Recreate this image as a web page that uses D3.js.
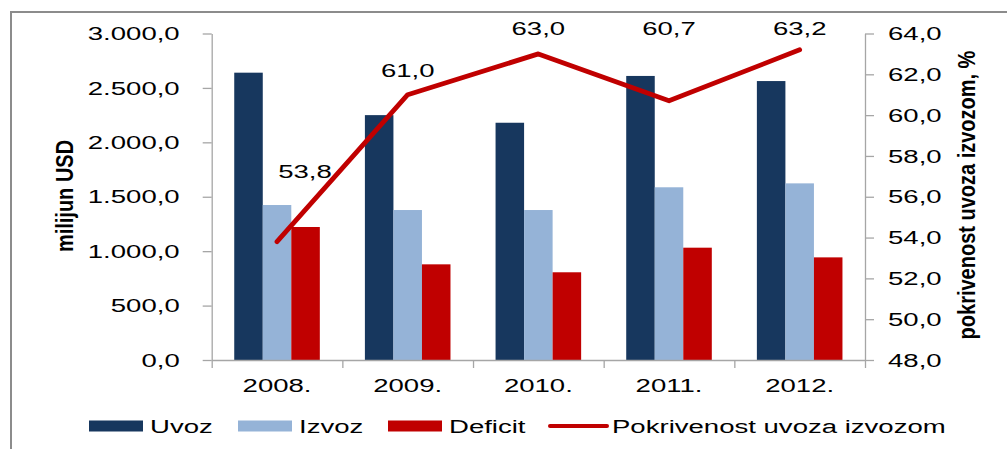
<!DOCTYPE html>
<html>
<head>
<meta charset="utf-8">
<script src="https://cdn.jsdelivr.net/npm/d3@7"></script>
<style>
  html, body { margin: 0; padding: 0; background: #fff; }
  svg { display: block; font-family: "Liberation Sans", Arial, sans-serif; }
</style>
</head>
<body>
<div id="chart"></div>
<script>
// data
const years = ["2008.", "2009.", "2010.", "2011.", "2012."];
const uvoz = [2640, 2250, 2180, 2610, 2563];
const izvoz = [1424, 1378, 1378, 1587, 1623];
const deficit = [1222, 879, 806, 1032, 943];
const pokrivenost = [53.8, 61.0, 63.0, 60.7, 63.2];
const leftTicks = [0, 500, 1000, 1500, 2000, 2500, 3000];
const rightTicks = [48, 50, 52, 54, 56, 58, 60, 62, 64];
const seriesNames = ["Uvoz", "Izvoz", "Deficit"];
const lineName = "Pokrivenost uvoza izvozom";

const W = 1007, H = 449;
const SX = 1.45; // horizontal stretch of the text in the original picture
const colors = { Uvoz: "#17375E", Izvoz: "#95B3D7", Deficit: "#C00000" };
const lineColor = "#C00000";
const axisColor = "#A6A6A6";

const locale = d3.formatLocale({ decimal: ",", thousands: ".", grouping: [3], currency: ["", ""] });
const fmt = locale.format(",.1f");

const svg = d3.select("#chart").append("svg")
  .attr("width", W).attr("height", H);

// frame
svg.append("rect")
  .attr("x", 11).attr("y", 12).attr("width", 1200).attr("height", 600)
  .attr("fill", "none").attr("stroke", "#8C8C8C").attr("stroke-width", 2);

const plot = { left: 211.7, right: 865, top: 33.5, bottom: 360 };

// scales
const x = d3.scaleBand().domain(years).range([plot.left, plot.right]);
const xSub = d3.scaleBand().domain(seriesNames).range([0, x.bandwidth()]).paddingOuter(0.79);
const y = d3.scaleLinear().domain([0, 3000]).range([plot.bottom, plot.top]);
const y2 = d3.scaleLinear().domain([48, 64]).range([plot.bottom, plot.top]);

function stretch(sel, sx) {
  sel.each(function () {
    const t = d3.select(this);
    const tx = +t.attr("x") || 0, ty = +t.attr("y") || 0;
    t.attr("x", 0).attr("y", 0).attr("transform", `translate(${tx},${ty}) scale(${sx},1)`);
  });
}

function styleAxis(g) {
  g.select(".domain").attr("stroke", axisColor).attr("stroke-width", 1.3);
  g.selectAll(".tick line").attr("stroke", axisColor).attr("stroke-width", 1.3);
  g.selectAll(".tick text").attr("fill", "#000").attr("font-size", 19)
    .attr("font-family", "Liberation Sans, Arial, sans-serif");
}

// bars
const rows = years.map((yr, i) => ({ year: yr, values: [uvoz[i], izvoz[i], deficit[i]] }));
svg.append("g").selectAll("g")
  .data(rows)
  .join("g")
  .attr("transform", d => `translate(${x(d.year)},0)`)
  .selectAll("rect")
  .data(d => d.values.map((v, j) => ({ key: seriesNames[j], value: v })))
  .join("rect")
  .attr("x", d => xSub(d.key))
  .attr("y", d => y(d.value))
  .attr("width", xSub.bandwidth())
  .attr("height", d => y(0) - y(d.value))
  .attr("fill", d => colors[d.key]);

// left axis
const gL = svg.append("g")
  .attr("transform", `translate(${plot.left},0)`)
  .call(d3.axisLeft(y).tickValues(leftTicks).tickFormat(fmt).tickSize(9).tickSizeOuter(0).tickPadding(23));
styleAxis(gL);
stretch(gL.selectAll(".tick text"), SX);

// right axis
const gR = svg.append("g")
  .attr("transform", `translate(${plot.right},0)`)
  .call(d3.axisRight(y2).tickValues(rightTicks).tickFormat(fmt).tickSize(9).tickSizeOuter(0).tickPadding(14));
styleAxis(gR);
stretch(gR.selectAll(".tick text"), SX);

// bottom axis: boundary ticks
const xb = d3.scaleLinear().domain([0, years.length]).range([plot.left, plot.right]);
const gB = svg.append("g")
  .attr("transform", `translate(0,${plot.bottom})`)
  .call(d3.axisBottom(xb).ticks(years.length).tickFormat("").tickSize(8).tickSizeOuter(0));
styleAxis(gB);

// bottom axis: labels
const gX = svg.append("g")
  .attr("transform", `translate(0,${plot.bottom})`)
  .call(d3.axisBottom(x).tickSize(0).tickPadding(19));
gX.select(".domain").remove();
styleAxis(gX);
gX.selectAll(".tick text").attr("dy", "0.71em");
stretch(gX.selectAll(".tick text"), SX);

// line
const linePts = years.map((yr, i) => ({ year: yr, value: pokrivenost[i] }));
svg.append("path")
  .datum(linePts)
  .attr("fill", "none")
  .attr("stroke", lineColor)
  .attr("stroke-width", 4.8)
  .attr("stroke-linejoin", "round")
  .attr("stroke-linecap", "round")
  .attr("d", d3.line().x(d => x(d.year) + x.bandwidth() / 2).y(d => y2(d.value)));

// data labels (offsets as placed in the original)
const labelOff = [[28, -64], [0, -18], [0, -19], [0, -66], [0, -15]];
svg.append("g").selectAll("text")
  .data(linePts)
  .join("text")
  .attr("x", (d, i) => x(d.year) + x.bandwidth() / 2 + labelOff[i][0])
  .attr("y", (d, i) => y2(d.value) + labelOff[i][1])
  .attr("text-anchor", "middle")
  .attr("font-size", 19)
  .attr("fill", "#000")
  .text(d => fmt(d.value))
  .call(stretch, SX);

// axis titles
svg.append("text")
  .attr("transform", `translate(73,196) scale(1.2,1) rotate(-90)`)
  .attr("text-anchor", "middle")
  .attr("font-size", 20).attr("font-weight", "bold")
  .text("milijun USD");

svg.append("text")
  .attr("transform", `translate(975,195) scale(1.2,1) rotate(-90)`)
  .attr("text-anchor", "middle")
  .attr("font-size", 20).attr("font-weight", "bold")
  .text("pokrivenost uvoza izvozom, %");

// legend
const legendX = [89, 238, 388, 549];
const legendItems = seriesNames.map(n => ({ name: n, type: "bar" })).concat([{ name: lineName, type: "line" }]);
const lg = svg.append("g").selectAll("g")
  .data(legendItems)
  .join("g")
  .attr("transform", (d, i) => `translate(${legendX[i]},426)`);
lg.filter(d => d.type === "bar").append("rect")
  .attr("x", 0).attr("y", -5.5).attr("width", 54).attr("height", 11)
  .attr("fill", d => colors[d.name]);
lg.filter(d => d.type === "line").append("line")
  .attr("x1", 1).attr("x2", 58).attr("y1", 0).attr("y2", 0)
  .attr("stroke", lineColor).attr("stroke-width", 4).attr("stroke-linecap", "round");
lg.append("text")
  .attr("x", d => d.type === "bar" ? 61 : 63)
  .attr("y", 0).attr("dy", "0.35em")
  .attr("font-size", 19).attr("fill", "#000")
  .text(d => d.name)
  .call(stretch, SX);
</script>
</body>
</html>
